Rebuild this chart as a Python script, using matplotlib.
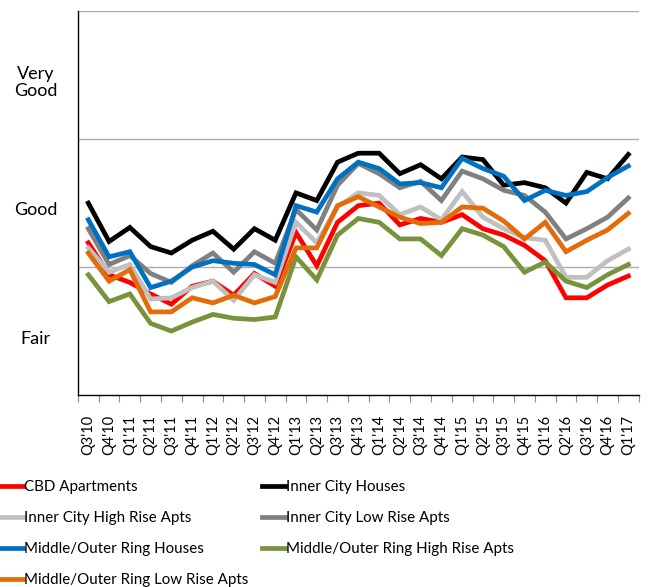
import numpy as np
import matplotlib
matplotlib.use("Agg")
import matplotlib.pyplot as plt
import matplotlib.transforms as mtransforms

plt.rcParams['font.family'] = ['Lato', 'DejaVu Sans']

quarters = ["Q3'10", "Q4'10", "Q1'11", "Q2'11", "Q3'11", "Q4'11", "Q1'12",
            "Q2'12", "Q3'12", "Q4'12", "Q1'13", "Q2'13", "Q3'13", "Q4'13",
            "Q1'14", "Q2'14", "Q3'14", "Q4'14", "Q1'15", "Q2'15", "Q3'15",
            "Q4'15", "Q1'16", "Q2'16", "Q3'16", "Q4'16", "Q1'17"]

# 0 = bottom of Fair band, 1 = Fair/Good, 2 = Good/Very Good, 3 = top
cbd_apts = [1.19, 0.94, 0.88, 0.79, 0.71, 0.85, 0.89, 0.78, 0.95, 0.85, 1.27, 1.01, 1.35, 1.48,
            1.50, 1.33, 1.38, 1.35, 1.41, 1.30, 1.25, 1.17, 1.05, 0.76, 0.76, 0.86, 0.93]
ic_houses = [1.50, 1.20, 1.31, 1.16, 1.11, 1.21, 1.28, 1.14, 1.30, 1.21, 1.58, 1.52, 1.82, 1.89,
             1.89, 1.73, 1.80, 1.69, 1.86, 1.84, 1.64, 1.66, 1.62, 1.50, 1.74, 1.69, 1.88]
ic_high_rise = [1.15, 0.96, 1.02, 0.75, 0.76, 0.84, 0.89, 0.74, 0.94, 0.88, 1.35, 1.19, 1.47, 1.58,
                1.56, 1.41, 1.47, 1.37, 1.59, 1.39, 1.30, 1.23, 1.21, 0.92, 0.92, 1.05, 1.14]
ic_low_rise = [1.30, 1.02, 1.09, 0.95, 0.88, 1.01, 1.11, 0.96, 1.12, 1.03, 1.45, 1.29, 1.64, 1.81,
               1.73, 1.62, 1.67, 1.52, 1.75, 1.69, 1.60, 1.56, 1.43, 1.22, 1.30, 1.39, 1.54]
mor_houses = [1.37, 1.08, 1.12, 0.84, 0.89, 1.00, 1.05, 1.03, 1.02, 0.94, 1.48, 1.43, 1.69, 1.82,
              1.77, 1.65, 1.66, 1.62, 1.85, 1.77, 1.71, 1.52, 1.60, 1.56, 1.59, 1.70, 1.79]
mor_high_rise = [0.94, 0.73, 0.79, 0.56, 0.50, 0.57, 0.63, 0.60, 0.59, 0.61, 1.08, 0.90, 1.25, 1.38,
                 1.35, 1.22, 1.22, 1.09, 1.30, 1.25, 1.16, 0.96, 1.04, 0.89, 0.84, 0.94, 1.02]
mor_low_rise = [1.11, 0.89, 0.98, 0.65, 0.65, 0.76, 0.72, 0.78, 0.72, 0.77, 1.15, 1.15, 1.48, 1.55,
                1.47, 1.39, 1.34, 1.35, 1.47, 1.46, 1.36, 1.22, 1.35, 1.12, 1.21, 1.29, 1.42]

series = [
    ("CBD Apartments", cbd_apts, "#FF0000"),
    ("Inner City Houses", ic_houses, "#000000"),
    ("Inner City High Rise Apts", ic_high_rise, "#C0C0C0"),
    ("Inner City Low Rise Apts", ic_low_rise, "#808080"),
    ("Middle/Outer Ring Houses", mor_houses, "#0070C0"),
    ("Middle/Outer Ring High Rise Apts", mor_high_rise, "#77933C"),
    ("Middle/Outer Ring Low Rise Apts", mor_low_rise, "#E36C09"),
]

band_labels = ["Fair", "Good", "Very\nGood"]
band_pos = [0.44, 1.45, 2.44]

fig = plt.figure(figsize=(6.66, 5.87), dpi=100)
ax = fig.add_axes([0.117, 0.327, 0.842, 0.654])

x = np.arange(len(quarters))
lines = {}
for name, vals, col in series:
    ln, = ax.plot(x, vals, color=col, lw=3.4, solid_joinstyle='miter', label=name)
    lines[name] = ln

ax.set_xlim(-0.5, len(quarters) - 0.5)
ax.set_ylim(0, 3)
for g in [1, 2, 3]:
    ax.axhline(g, color="#ADADAD", lw=1.0, zorder=0)

for s in ["top", "right"]:
    ax.spines[s].set_visible(False)
for s in ["left", "bottom"]:
    ax.spines[s].set_color("black")
    ax.spines[s].set_linewidth(1.0)

ax.set_yticks([])
trans = mtransforms.blended_transform_factory(ax.transAxes, ax.transData)
for lab, y in zip(band_labels, band_pos):
    ax.text(-0.075, y, lab, transform=trans, ha="center", va="center",
            fontsize=13, multialignment="center", linespacing=1.1)

ax.set_xticks(x)
ax.set_xticklabels(quarters, rotation=90, fontsize=10.5)
ax.set_xticks(np.arange(len(quarters) + 1) - 0.5, minor=True)
ax.tick_params(axis="x", which="major", length=0, pad=14)
ax.tick_params(axis="x", which="minor", length=5, width=0.8, color="#888888")

order = ["CBD Apartments", "Inner City High Rise Apts", "Middle/Outer Ring Houses",
         "Middle/Outer Ring Low Rise Apts", "Inner City Houses", "Inner City Low Rise Apts",
         "Middle/Outer Ring High Rise Apts"]
fig.legend([lines[n] for n in order], order, ncol=2, loc="upper left",
           bbox_to_anchor=(0.0, 0.182), frameon=False, fontsize=10.9,
           handlelength=1.5, handletextpad=0.1, columnspacing=0.9,
           labelspacing=1.12, borderaxespad=0, borderpad=0)

fig.savefig("out.png", dpi=100)
